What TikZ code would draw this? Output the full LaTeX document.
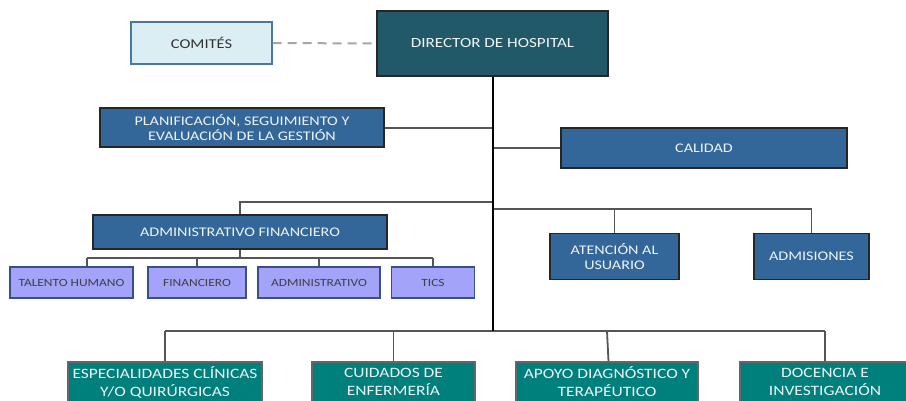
\documentclass[tikz,border=0pt]{standalone}
\usepackage{fontspec}
\setmainfont{Carlito}[FakeStretch=1.22]
\definecolor{dirfill}{HTML}{215968}
\definecolor{comfill}{HTML}{DBEEF4}
\definecolor{comdraw}{HTML}{4A76A8}
\definecolor{bluefill}{HTML}{336699}
\definecolor{subfill}{HTML}{A3A3FA}
\definecolor{subdraw}{HTML}{3A4F8A}
\definecolor{tealfill}{HTML}{00807C}
\definecolor{linegray}{HTML}{555555}
\definecolor{txtwhite}{HTML}{EEF3F5}
\tikzset{
  box/.style={rectangle, inner sep=2pt, align=center, line width=1.1pt},
  dirbox/.style={box, fill=dirfill, draw=black!85, text=txtwhite, font=\fontsize{14}{16}\selectfont},
  combox/.style={box, fill=comfill, draw=comdraw, text=black!80, font=\fontsize{13.5}{15}\selectfont},
  bluebox/.style={box, fill=bluefill, draw=black!85, text=txtwhite, font=\fontsize{13.2}{15}\selectfont},
  subbox/.style={box, fill=subfill, draw=subdraw, text=black!75, font=\fontsize{11}{12}\selectfont},
  tealbox/.style={box, fill=tealfill, draw=black!60, text=txtwhite, font=\fontsize{14.3}{18}\selectfont},
  trunk/.style={line width=2.4pt, black},
  branch/.style={line width=1.8pt, linegray},
  dashlink/.style={line width=2pt, gray!70, dash pattern=on 9pt off 6pt}
}
\begin{document}
\begin{tikzpicture}[x=1pt,y=-1pt]
\useasboundingbox (0,0) rectangle (906,400);
\clip (0,0) rectangle (906,400);
% nodes
\node[dirbox, minimum width=231pt, minimum height=65pt] (dir) at (492.5,43.5) {DIRECTOR DE HOSPITAL};
\node[combox, minimum width=141pt, minimum height=42pt] (com) at (201.5,43) {COMITÉS};
\node[bluebox, minimum width=284pt, minimum height=39pt] (plan) at (242,127.5) {PLANIFICACIÓN, SEGUIMIENTO Y\\EVALUACIÓN DE LA GESTIÓN};
\node[bluebox, minimum width=286pt, minimum height=40pt] (cal) at (704,148) {CALIDAD};
\node[bluebox, minimum width=294pt, minimum height=34pt] (adm) at (240,232) {ADMINISTRATIVO FINANCIERO};
\node[bluebox, minimum width=129pt, minimum height=46pt] (ate) at (614.5,256.5) {ATENCIÓN AL\\USUARIO};
\node[bluebox, minimum width=115pt, minimum height=46pt] (ads) at (811.5,256.5) {ADMISIONES};
\node[subbox, minimum width=123pt, minimum height=31pt] (tal) at (71.5,282.5) {TALENTO HUMANO};
\node[subbox, minimum width=98pt, minimum height=31pt] (fin) at (197,282.5) {FINANCIERO};
\node[subbox, minimum width=122pt, minimum height=31pt] (adv) at (319,282.5) {ADMINISTRATIVO};
\node[subbox, minimum width=83pt, minimum height=31pt] (tic) at (433,282.5) {TICS};
\node[tealbox, minimum width=194pt, minimum height=40pt] (esp) at (165,382) {ESPECIALIDADES CLÍNICAS\\Y/O QUIRÚRGICAS};
\node[tealbox, minimum width=163pt, minimum height=40pt] (cui) at (393.5,382) {CUIDADOS DE\\ENFERMERÍA};
\node[tealbox, minimum width=182pt, minimum height=40pt] (apo) at (607,382) {APOYO DIAGNÓSTICO Y\\TERAPÉUTICO};
\node[tealbox, minimum width=170pt, minimum height=40pt] (doc) at (825,382) {DOCENCIA E\\INVESTIGACIÓN};
% junction coordinates
\coordinate (tb) at (493,331);
\coordinate (jplan) at (493,128);
\coordinate (jcal) at (493,148);
\coordinate (jadm) at (493,202);
\coordinate (jright) at (493,209);
\coordinate (jsub) at (240,258);
% connectors
\draw[dashlink] (com.east) -- (dir.west);
\draw[branch] (plan.east |- jplan) -- (jplan);
\draw[branch] (jcal) -- (cal.west |- jcal);
\draw[branch] (jadm) -- (adm.north |- jadm) -- (adm.north);
\draw[branch] (jright) -- (ads.north |- jright) -- (ads.north);
\draw[branch] (ate.north |- jright) -- (ate.north);
\draw[branch] (adm.south) -- (jsub);
\draw[branch] ([xshift=15.5pt]tal.north |- jsub) -- (tic.north |- jsub);
\draw[branch] ([xshift=15.5pt]tal.north |- jsub) -- ([xshift=15.5pt]tal.north);
\draw[branch] (fin.north |- jsub) -- (fin.north);
\draw[branch] (adv.north |- jsub) -- (adv.north);
\draw[branch] (tic.north |- jsub) -- (tic.north);
\draw[branch] (esp.north |- tb) -- (doc.north |- tb);
\draw[branch] (esp.north |- tb) -- (esp.north);
\draw[branch] (cui.north |- tb) -- (cui.north);
\draw[branch] (apo.north |- tb) -- ([xshift=1.5pt]apo.north);
\draw[branch] (doc.north |- tb) -- (doc.north);
\draw[trunk] (dir.south -| tb) -- (tb);
\end{tikzpicture}
\end{document}
